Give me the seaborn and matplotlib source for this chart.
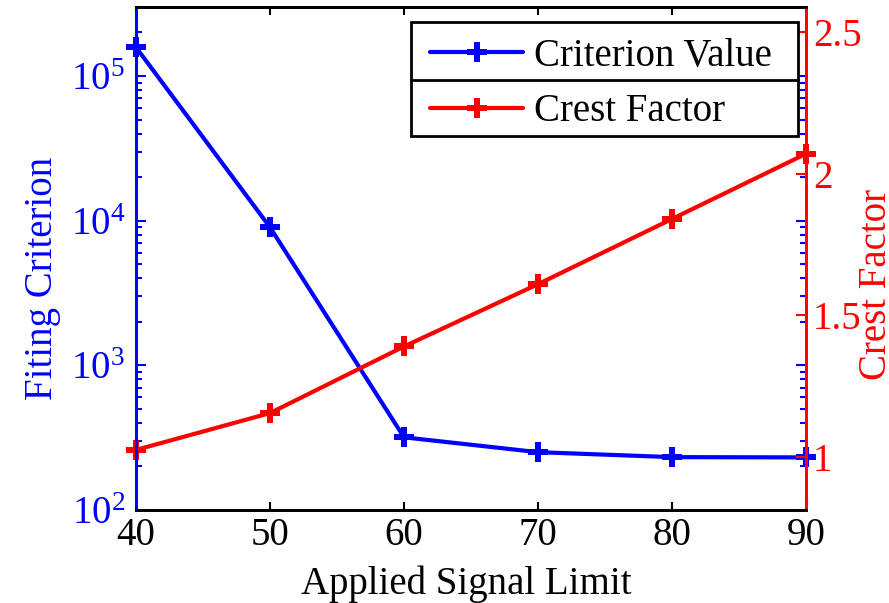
import numpy as np
import pandas as pd
import matplotlib
matplotlib.use('Agg')
import matplotlib.pyplot as plt
import matplotlib.patches as mpatches
import seaborn as sns
from matplotlib.ticker import FixedLocator, LogLocator, FuncFormatter, NullFormatter
from matplotlib.lines import Line2D

signal_limit = [40, 50, 60, 70, 80, 90]
criterion_value = [1.58e5, 9.0e3, 318, 251, 232, 231]
crest_factor = [1.025, 1.155, 1.39, 1.61, 1.84, 2.07]
x_ticks = [40, 50, 60, 70, 80, 90]
right_ticks = [1, 1.5, 2, 2.5]
series_labels = ['Criterion Value', 'Crest Factor']

sns.set_theme(style='white')
plt.rcParams['font.family'] = ['Liberation Serif', 'DejaVu Serif']
plt.rcParams['mathtext.fontset'] = 'custom'
plt.rcParams['mathtext.rm'] = 'Liberation Serif'
plt.rcParams['text.color'] = 'black'

W, H = 889, 603
FS = 28
fig = plt.figure(figsize=(W / 100, H / 100), dpi=100)
ax = fig.add_axes([136 / W, 1 - 510 / H, (806 - 136) / W, (510 - 7) / H])
ax2 = ax.twinx()

df = pd.DataFrame({'limit': signal_limit, 'criterion': criterion_value, 'crest': crest_factor})
sns.lineplot(data=df, x='limit', y='criterion', ax=ax, color='blue', lw=3,
             marker='P', markersize=14, markeredgewidth=0)
sns.lineplot(data=df, x='limit', y='crest', ax=ax2, color='red', lw=3,
             marker='P', markersize=14, markeredgewidth=0)
for l in ax.lines + ax2.lines:
    l.set_clip_on(False)

ax.set_yscale('log')
ax.set_ylim(100, 3e5)
ax.set_xlim(40, 90)
ax2.set_ylim(0.813, 2.588)

ax.set_xlabel('')
ax.set_ylabel('')
ax2.set_ylabel('')

ax.xaxis.set_major_locator(FixedLocator(x_ticks))
ax.yaxis.set_major_locator(LogLocator(base=10, numticks=10))
ax.yaxis.set_minor_locator(LogLocator(base=10, subs=np.arange(2, 10), numticks=20))
ax.yaxis.set_major_formatter(FuncFormatter(lambda v, p: r'$\mathregular{10^{%d}}$' % int(round(np.log10(v)))))
ax.yaxis.set_minor_formatter(NullFormatter())
ax2.yaxis.set_major_locator(FixedLocator(right_ticks))
ax2.yaxis.set_major_formatter(FuncFormatter(lambda v, p: '%g' % v))

ax.tick_params(axis='x', which='both', direction='in', top=True, bottom=True,
               length=6, width=1.5, colors='black', labelsize=FS, pad=5)
ax.tick_params(axis='y', which='major', direction='in', left=True, right=True,
               length=7, width=1.5, colors='blue', labelsize=FS, pad=8)
ax.tick_params(axis='y', which='minor', direction='in', left=True, right=True,
               length=4, width=1.5, colors='blue')
ax2.tick_params(axis='y', which='major', direction='in', right=True, left=False,
                length=7, width=1.5, colors='red', labelsize=FS, pad=5)

for a in (ax, ax2):
    a.spines['left'].set_color('blue')
    a.spines['right'].set_color('red')
    a.spines['top'].set_color('black')
    a.spines['bottom'].set_color('black')
    for s in a.spines.values():
        s.set_linewidth(2)
        s.set_visible(True)

fig.text(466 / W, 1 - 584 / H, 'Applied Signal Limit', fontsize=FS, color='black',
         ha='center', va='center')
fig.text(43 / W, 1 - 278 / H, 'Fiting Criterion', fontsize=FS, color='blue',
         rotation=90, ha='center', va='center')
fig.text(876 / W, 1 - 284 / H, 'Crest Factor', fontsize=FS, color='red',
         rotation=90, ha='center', va='center')

# legend box (drawn manually: outer frame plus a divider between entries)
box = mpatches.Rectangle((411 / W, 1 - 136 / H), 387 / W, 114 / H, transform=fig.transFigure,
                         facecolor='white', edgecolor='black', lw=2, zorder=4.8, clip_on=False)
ax2.add_patch(box)
ax2.add_line(Line2D([411 / W, 798 / W], [1 - 80 / H, 1 - 80 / H], color='black', lw=2,
                    transform=fig.transFigure, zorder=4.9, clip_on=False))

handles = [Line2D([], [], color='blue', lw=3, marker='P', markersize=14, markeredgewidth=0),
           Line2D([], [], color='red', lw=3, marker='P', markersize=14, markeredgewidth=0)]
leg = ax2.legend(handles, series_labels, loc='upper left',
                 bbox_to_anchor=(430 / W, 1 - 38 / H), bbox_transform=fig.transFigure,
                 fontsize=FS, frameon=False, handlelength=2.4,
                 handletextpad=0.28, borderpad=0, labelspacing=0.47, borderaxespad=0)
leg.set_zorder(6)

fig.savefig('out.png', dpi=100)
